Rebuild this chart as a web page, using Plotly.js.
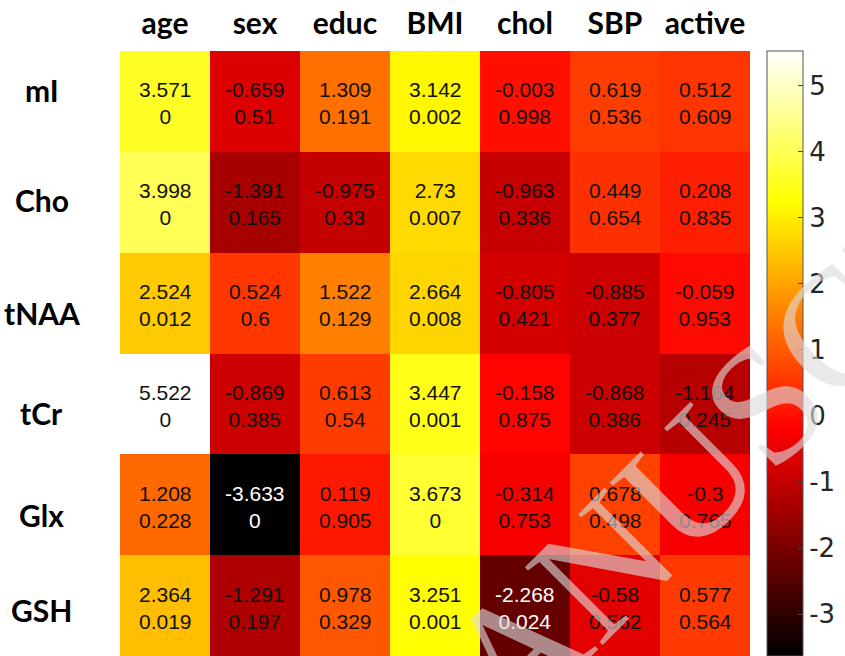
<!DOCTYPE html>
<html>
<head>
<meta charset="utf-8">
<script src="https://cdn.plot.ly/plotly-3.0.1.min.js"></script>
<style>
  html, body { margin: 0; padding: 0; background: #fff; }
  #chart { width: 845px; height: 656px; }
</style>
</head>
<body>
<div id="chart"></div>
<script>
// Metabolites (rows) and covariates (columns)
const metabolites = ['mI', 'Cho', 'tNAA', 'tCr', 'Glx', 'GSH'];
const covariates = ['age', 'sex', 'educ', 'BMI', 'chol', 'SBP', 'active'];

// t-statistics, one array per metabolite
const tMI   = [3.571, -0.659, 1.309, 3.142, -0.003, 0.619, 0.512];
const tCho  = [3.998, -1.391, -0.975, 2.73, -0.963, 0.449, 0.208];
const tNAA  = [2.524, 0.524, 1.522, 2.664, -0.805, -0.885, -0.059];
const tCr   = [5.522, -0.869, 0.613, 3.447, -0.158, -0.868, -1.164];
const tGlx  = [1.208, -3.633, 0.119, 3.673, -0.314, 0.678, -0.3];
const tGSH  = [2.364, -1.291, 0.978, 3.251, -2.268, -0.58, 0.577];

// p-values, one array per metabolite
const pMI   = [0, 0.51, 0.191, 0.002, 0.998, 0.536, 0.609];
const pCho  = [0, 0.165, 0.33, 0.007, 0.336, 0.654, 0.835];
const pNAA  = [0.012, 0.6, 0.129, 0.008, 0.421, 0.377, 0.953];
const pCr   = [0, 0.385, 0.54, 0.001, 0.875, 0.386, 0.245];
const pGlx  = [0.228, 0, 0.905, 0, 0.753, 0.498, 0.765];
const pGSH  = [0.019, 0.197, 0.329, 0.001, 0.024, 0.562, 0.564];

// Colorbar ticks (plain hyphen minus signs)
const cbTicks = [-3, -2, -1, 0, 1, 2, 3, 4, 5];
const cbTickText = cbTicks.map(v => String(v));

const tRows = [tMI, tCho, tNAA, tCr, tGlx, tGSH];
const pRows = [pMI, pCho, pNAA, pCr, pGlx, pGSH];

// Hand-tuned vertical nudges (px) for the row names
const rowNameShift = [11, 2, -10, -9, -10, -4];

// MATLAB-style "hot" colormap
const hot = [
  [0, 'rgb(0,0,0)'],
  [0.375, 'rgb(255,0,0)'],
  [0.75, 'rgb(255,255,0)'],
  [1, 'rgb(255,255,255)']
];

const cbFont = { family: 'DejaVu Sans, Liberation Sans, sans-serif', size: 26, color: '#262626' };

const heat = {
  type: 'heatmap',
  x: covariates,
  y: metabolites,
  z: tRows,
  colorscale: hot,
  showscale: true,
  hoverinfo: 'skip',
  colorbar: {
    x: 1.027, xanchor: 'left', xref: 'paper',
    y: 0, yanchor: 'bottom', len: 1.0, lenmode: 'fraction',
    thickness: 36, thicknessmode: 'pixels',
    outlinecolor: '#555', outlinewidth: 1,
    tickmode: 'array', tickvals: cbTicks, ticktext: cbTickText,
    ticks: 'inside', ticklen: 5, tickcolor: '#444', tickwidth: 1,
    tickfont: cbFont,
    xpad: 0, ypad: 0
  }
};

// Cell labels: t-statistic over p-value
const annotations = [];
metabolites.forEach((m, i) => {
  covariates.forEach((c, j) => {
    const t = tRows[i][j];
    annotations.push({
      x: c, y: m, xref: 'x', yref: 'y', yshift: -2,
      text: String(t) + '<br>' + String(pRows[i][j]),
      showarrow: false,
      font: { family: 'Liberation Sans, Arial, sans-serif', size: 21, color: t < -2 ? '#ffffff' : '#111111' }
    });
  });
  // Row names, centred in the left margin
  annotations.push({
    x: -0.124, xref: 'paper', y: m, yref: 'y', yshift: rowNameShift[i],
    xanchor: 'center', text: m, showarrow: false,
    font: { family: 'Lato, Open Sans, sans-serif', size: 30, color: '#000', weight: 'bold' }
  });
});

// Faint diagonal watermark
annotations.push({
  x: 1.0, y: 0.395, xref: 'paper', yref: 'paper',
  xanchor: 'center', yanchor: 'middle',
  text: 'MANUSCRIPT', textangle: -45, showarrow: false,
  font: { family: 'Liberation Serif, Times New Roman, serif', size: 168, color: 'rgba(220,220,220,0.62)' }
});

const layout = {
  width: 845, height: 656,
  margin: { l: 120, r: 95, t: 51, b: 0, pad: 0 },
  paper_bgcolor: '#fff', plot_bgcolor: '#fff',
  font: cbFont,
  showlegend: false,
  xaxis: {
    side: 'top', type: 'category',
    showgrid: false, zeroline: false, showline: false, ticks: '',
    ticklabelstandoff: 10,
    tickfont: { family: 'Lato, Open Sans, sans-serif', size: 30, color: '#000', weight: 'bold' }
  },
  yaxis: {
    type: 'category', autorange: 'reversed',
    showgrid: false, zeroline: false, showline: false, ticks: '',
    showticklabels: false
  },
  annotations: annotations
};

Plotly.newPlot('chart', [heat], layout, { staticPlot: true, displayModeBar: false });
</script>
</body>
</html>
